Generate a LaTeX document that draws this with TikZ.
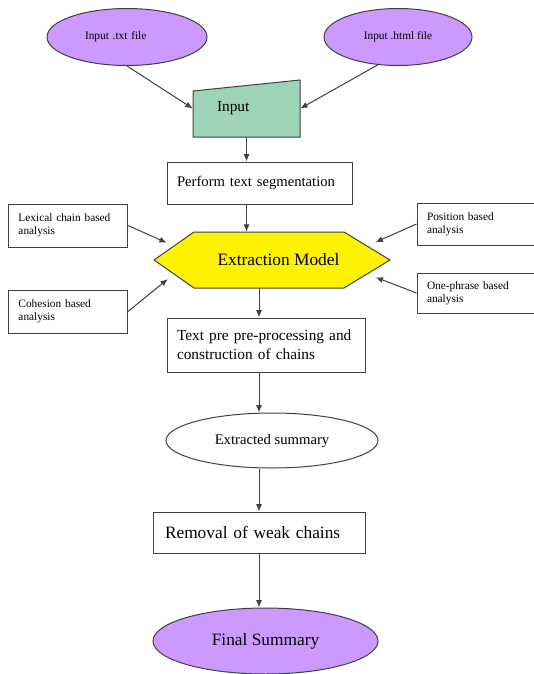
\documentclass[tikz,border=0pt]{standalone}
\usepackage{fontspec}
\setmainfont{Liberation Serif}
\usetikzlibrary{shapes.geometric,arrows.meta,calc}
\definecolor{lilac}{HTML}{CC99FF}
\definecolor{sage}{HTML}{9FD3B8}
\definecolor{rim}{HTML}{404040}
\begin{document}
\begin{tikzpicture}[x=0.75pt,y=-0.75pt,
bubble/.style={ellipse, draw=rim, line width=0.75pt, inner sep=0pt},
flatbox/.style={rectangle, draw=rim, line width=0.75pt, fill=white, inner sep=0pt, inner xsep=7.5pt, align=left},
sidebox/.style={flatbox, minimum height=31.5pt, font=\fontsize{8.5}{10}\selectfont},
arr/.style={draw=rim, line width=0.75pt, -{Latex[length=5.5pt,width=4.5pt]}}]
\useasboundingbox (0,0) rectangle (533,674);
\node[bubble, fill=lilac, minimum width=120pt, minimum height=42.75pt, text width=63pt, align=left, font=\fontsize{8.5}{10}\selectfont] (txt) at (127,37){Input .txt file};
\node[bubble, fill=lilac, minimum width=111pt, minimum height=42.75pt, font=\fontsize{8.5}{10}\selectfont] (html) at (398,37){Input .html file};
\fill[sage, draw=rim, line width=0.75pt] (193,91) -- (300,80) -- (300,137) -- (193,137) -- cycle;
\node[minimum width=80.25pt, minimum height=42.75pt, inner sep=0pt, inner xsep=18pt, text width=44.25pt, align=left, font=\fontsize{11.5}{13}\selectfont] (inp) at (246.5,108.5){Input};
\draw[arr] (txt.south) -- (inp.west);
\draw[arr] (html.234) -- (inp.east);
\node[flatbox, minimum height=31.5pt, text width=123.75pt, font=\fontsize{11}{13}\selectfont] (seg) at (259.5,183){Perform text segmentation};
\draw[arr] (inp.south) -- (inp.south |- seg.north);
\coordinate (hl) at (154,260);
\coordinate (htl) at (194,232);
\coordinate (htr) at (344,232);
\coordinate (hr) at (390,260);
\coordinate (hbr) at (344,288);
\coordinate (hbl) at (194,288);
\fill[yellow, draw=rim, line width=0.75pt] (hl) -- (htl) -- (htr) -- (hr) -- (hbr) -- (hbl) -- cycle;
\node[minimum height=42pt, inner sep=0pt, font=\fontsize{13}{15}\selectfont] (ext) at (278.5,260){Extraction Model};
\draw[arr] (inp.south |- seg.south) -- (inp.south |- ext.north);
\node[sidebox, minimum height=32.25pt, text width=74.25pt] (lex) at (68,225.5){Lexical chain based\\analysis};
\node[sidebox, minimum height=32.25pt, text width=74.25pt] (coh) at (68,311.5){Cohesion based\\analysis};
\node[sidebox, text width=81pt] (pos) at (481,224){Position based\\analysis};
\node[sidebox, minimum height=30pt, text width=81pt] (phr) at (481,293){One-phrase based\\analysis};
\draw[arr, shorten >=6pt] (lex.east) -- ($(hl)!.5!(htl)$);
\draw[arr, shorten >=6pt] (coh.east) -- ($(hl)!.5!(hbl)$);
\draw[arr, shorten >=7pt] (pos.west) -- ($(hr)!.5!(htr)$);
\draw[arr, shorten >=7pt] (phr.west) -- ($(hr)!.5!(hbr)$);
\coordinate (spine) at (259,0);
\node[flatbox, minimum height=40.5pt, text width=133.5pt, font=\fontsize{11.5}{14.5}\selectfont] (pre) at (266,345){Text pre pre-processing and\\construction of chains};
\draw[arr] (spine |- hbl) -- (spine |- pre.north);
\node[bubble, fill=white, minimum width=159pt, minimum height=41.25pt, font=\fontsize{11}{13}\selectfont] (summ) at (272,440.5){Extracted summary};
\draw[arr] (spine |- pre.south) -- (spine |- summ.north);
\node[flatbox, minimum height=30.75pt, inner xsep=9pt, text width=141pt, font=\fontsize{13}{15}\selectfont] (weak) at (259,532.5){Removal of weak chains};
\draw[arr] (spine |- summ.south) -- (spine |- weak.north);
\node[bubble, fill=lilac, minimum width=168.75pt, minimum height=49.5pt, font=\fontsize{13}{15}\selectfont] (fin) at (265.5,641){Final Summary};
\draw[arr] (spine |- weak.south) -- (spine |- fin.north);
\end{tikzpicture}
\end{document}
